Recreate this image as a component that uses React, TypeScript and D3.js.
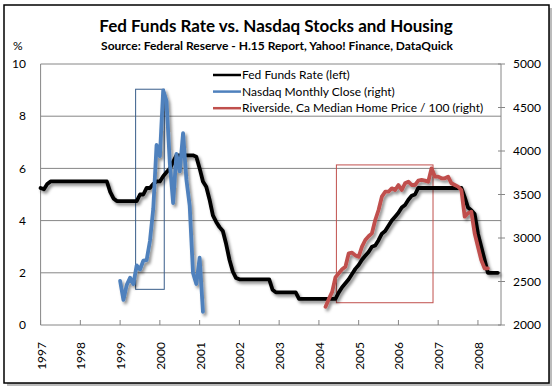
import React from "react";
import * as d3 from "d3";

// monthly fed funds rate (%) from Jan 1997
const fedStart = 1997;
const fedRate = [
  5.25, 5.2, 5.4, 5.5, 5.5, 5.5, 5.5, 5.5, 5.5, 5.5, 5.5, 5.5,
  5.5, 5.5, 5.5, 5.5, 5.5, 5.5, 5.5, 5.5, 5.5, 5.1, 4.85, 4.75,
  4.75, 4.75, 4.75, 4.75, 4.75, 4.75, 5.0, 5.0, 5.25, 5.25, 5.4, 5.5,
  5.5, 5.7, 5.85, 6.0, 6.25, 6.5, 6.5, 6.5, 6.5, 6.5, 6.5, 6.45,
  6.0, 5.5, 5.3, 4.8, 4.2, 3.95, 3.75, 3.6, 3.1, 2.5, 2.05, 1.8,
  1.75, 1.75, 1.75, 1.75, 1.75, 1.75, 1.75, 1.75, 1.75, 1.75, 1.35, 1.25,
  1.25, 1.25, 1.25, 1.25, 1.25, 1.25, 1.0, 1.0, 1.0, 1.0, 1.0, 1.0,
  1.0, 1.0, 1.0, 1.0, 1.0, 1.0, 1.25, 1.45, 1.6, 1.75, 1.95, 2.15,
  2.3, 2.5, 2.65, 2.8, 3.0, 3.05, 3.25, 3.5, 3.6, 3.8, 4.0, 4.15,
  4.3, 4.5, 4.6, 4.8, 4.95, 5.0, 5.25, 5.25, 5.25, 5.25, 5.25, 5.25,
  5.25, 5.25, 5.25, 5.25, 5.25, 5.25, 5.25, 5.25, 4.9, 4.5, 4.4, 4.25,
  3.5, 3.0, 2.5, 2.0, 2.0, 2.0, 2.0,
];

// nasdaq monthly close from Jan 1999
const nasdaqStart = 1999;
const nasdaq = [
  2506, 2288, 2461, 2543, 2471, 2686, 2638, 2739, 2746, 2966, 3336, 4069,
  3940, 4697, 4573, 3861, 3401, 3966, 3767, 4206, 3673, 3370, 2598, 2471,
  2773, 2152,
];

// riverside median home price / 100, from Mar 2004
const homeStart = 2004 + 2 / 12;
const homePrice = [
  2210, 2300, 2380, 2550, 2594, 2640, 2670, 2824, 2831, 2800,
  2785, 2900, 2977, 3020, 3054, 3207, 3322, 3475, 3532, 3532, 3571, 3552,
  3609, 3552, 3629, 3647, 3609, 3609, 3659, 3667, 3660, 3647, 3801, 3705,
  3705, 3686, 3686, 3705, 3629, 3609, 3590, 3552, 3245, 3284, 3303, 3054,
  2900, 2747, 2652, 2652,
];

const years = d3.range(1997, 2009);
const leftTicks = [0, 2, 4, 6, 8, 10];
const rightTicks = [2000, 2500, 3000, 3500, 4000, 4500, 5000];

// highlight boxes: [x0, x1] in years, [y0, y1] on the right axis
const nasdaqBox = { x: [1999.39, 2000.11], y: [2410, 4710] };
const homeBox = { x: [2004.44, 2006.87], y: [2256, 3840] };

const legendItems = [
  { label: "Fed Funds Rate (left)", color: "#000000" },
  { label: "Nasdaq Monthly Close (right)", color: "#4F81BD" },
  { label: "Riverside, Ca Median Home Price / 100 (right)", color: "#C0504D" },
];

const font = "Lato, 'Open Sans', sans-serif";

export default function App() {
  const left = 40.6, right = 501, top = 64, bottom = 325;
  const x = d3.scaleLinear().domain([1997, 2008.58]).range([left, right]);
  const yL = d3.scaleLinear().domain([0, 10]).range([bottom, top]);
  const yR = d3.scaleLinear().domain([2000, 5000]).range([bottom, top]);

  const monthly = (start: number, vals: number[]) =>
    vals.map((v, i) => [start + i / 12, v] as [number, number]);

  const fedLine = d3.line<[number, number]>().x((d) => x(d[0])).y((d) => yL(d[1]))(monthly(fedStart, fedRate))!;
  const rLine = d3.line<[number, number]>().x((d) => x(d[0])).y((d) => yR(d[1]));
  const nasLine = rLine(monthly(nasdaqStart, nasdaq))!;
  const homeLine = rLine(monthly(homeStart, homePrice))!;

  const box = (b: { x: number[]; y: number[] }) => ({
    x: x(b.x[0]),
    y: yR(b.y[1]),
    width: x(b.x[1]) - x(b.x[0]),
    height: yR(b.y[0]) - yR(b.y[1]),
  });

  return (
    <svg width={554} height={386} style={{ position: "absolute", left: 0, top: 0 }} fontFamily={font}>
      <defs>
        <filter id="sh" x="-10%" y="-10%" width="130%" height="130%">
          <feDropShadow dx="2" dy="2.5" stdDeviation="1.5" floodColor="#000" floodOpacity="0.45" />
        </filter>
      </defs>
      <rect x={0} y={0} width={554} height={386} fill="#fff" />
      <rect x={7} y={8} width={545} height={378} fill="#bbb" />
      <rect x={4} y={5} width={545} height={378} fill="#fff" stroke="#000" strokeWidth={1.5} />

      <text x={276} y={32} textAnchor="middle" fontWeight="bold" fontSize={17}>
        Fed Funds Rate vs. Nasdaq Stocks and Housing
      </text>
      <text x={277} y={50} textAnchor="middle" fontWeight="bold" fontSize={12}>
        Source: Federal Reserve - H.15 Report, Yahoo! Finance, DataQuick
      </text>
      <text x={13} y={50} fontSize={12}>%</text>

      {leftTicks.map((t) => (
        <g key={t}>
          <line x1={left} x2={right} y1={yL(t)} y2={yL(t)} stroke="#868686" />
          <text x={26} y={yL(t)} dy="0.35em" textAnchor="end" fontSize={12}>{t}</text>
        </g>
      ))}
      <line x1={left} x2={left} y1={top} y2={bottom} stroke="#868686" />
      <line x1={right} x2={right} y1={top} y2={bottom} stroke="#868686" />
      {rightTicks.map((t) => (
        <g key={t}>
          <line x1={right - 3} x2={right + 4} y1={yR(t)} y2={yR(t)} stroke="#868686" />
          <text x={513} y={yR(t)} dy="0.35em" fontSize={12}>{t}</text>
        </g>
      ))}
      {years.map((yr) => (
        <g key={yr}>
          <line x1={x(yr)} x2={x(yr)} y1={bottom} y2={bottom - 5} stroke="#868686" />
          <text transform={`translate(${x(yr) + 5},${342}) rotate(-90)`} textAnchor="end" fontSize={12}>{yr}</text>
        </g>
      ))}

      <rect {...box(nasdaqBox)} fill="none" stroke="#385D8A" strokeWidth={1} />
      <rect {...box(homeBox)} fill="none" stroke="#C0504D" strokeWidth={1} />

      <g filter="url(#sh)" fill="none" strokeWidth={3.8} strokeLinejoin="round" strokeLinecap="round">
        <path d={fedLine} stroke="#000" />
        <path d={nasLine} stroke="#4F81BD" />
        <path d={homeLine} stroke="#C0504D" />
      </g>

      <rect x={210} y={66} width={280} height={48} fill="#fff" />
      {legendItems.map((it, i) => (
        <g key={it.label} transform={`translate(213,${75 + i * 16.6})`}>
          <line x1={0} x2={28} stroke={it.color} strokeWidth={2.5} />
          <text x={29} dy="0.35em" fontSize={12}>{it.label}</text>
        </g>
      ))}
    </svg>
  );
}
